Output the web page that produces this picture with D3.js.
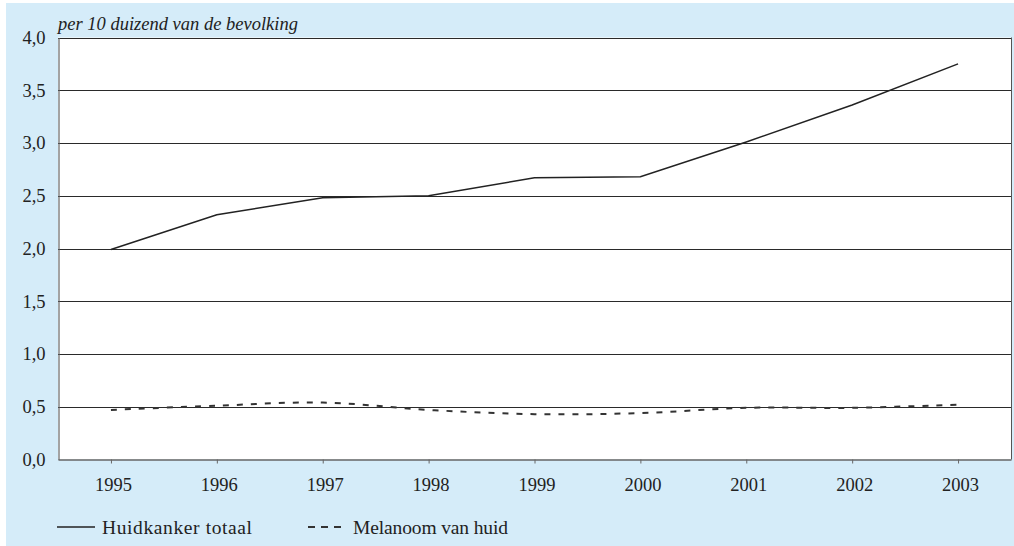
<!DOCTYPE html>
<html>
<head>
<meta charset="utf-8">
<script src="https://cdn.jsdelivr.net/npm/d3@7"></script>
<style>
  html, body { margin: 0; padding: 0; background: #ffffff; }
  svg { display: block; }
  text { font-family: "Liberation Serif", "DejaVu Serif", serif; fill: #222; }
</style>
</head>
<body>
<svg id="chart" width="1014" height="546"></svg>
<script>
// Skin cancer per 10 000 inhabitants, 1995–2003
const years = ["1995", "1996", "1997", "1998", "1999", "2000", "2001", "2002", "2003"];
const huidkankerTotaal = [1.99, 2.32, 2.48, 2.50, 2.67, 2.68, 3.01, 3.36, 3.75];
const melanoomVanHuid = [0.47, 0.51, 0.54, 0.47, 0.43, 0.44, 0.49, 0.49, 0.52];
const yTicks = [0, 0.5, 1.0, 1.5, 2.0, 2.5, 3.0, 3.5, 4.0];
const seriesNames = ["Huidkanker totaal", "Melanoom van huid"];
const unitLabel = "per 10 duizend van de bevolking";

const svg = d3.select("#chart");
const W = 1014, H = 546;
const plot = { left: 58, right: 1011, top: 37.5, bottom: 459.5 };

// panel background
svg.append("rect")
  .attr("x", 6).attr("y", 3)
  .attr("width", W - 6).attr("height", H - 3)
  .attr("fill", "#d5ecf9");

// white plot area
svg.append("rect")
  .attr("x", plot.left).attr("y", plot.top)
  .attr("width", plot.right - plot.left).attr("height", plot.bottom - plot.top)
  .attr("fill", "#ffffff");

const x = d3.scalePoint().domain(years).range([plot.left, plot.right]).padding(0.5);
const y = d3.scaleLinear().domain([0, 4]).range([plot.bottom, plot.top]);

// horizontal gridlines
svg.append("g")
  .selectAll("line")
  .data(yTicks.filter(d => d > 0))
  .join("line")
  .attr("x1", plot.left).attr("x2", plot.right)
  .attr("y1", d => Math.round(y(d)) + 0.5).attr("y2", d => Math.round(y(d)) + 0.5)
  .attr("stroke", "#2a2a2a").attr("stroke-width", 1);

// right border of the plot area
svg.append("line")
  .attr("x1", plot.right + 0.5).attr("x2", plot.right + 0.5)
  .attr("y1", plot.top).attr("y2", plot.bottom)
  .attr("stroke", "#555").attr("stroke-width", 1);

// y axis
const yAxis = d3.axisLeft(y)
  .tickValues(yTicks)
  .tickSize(0)
  .tickPadding(13)
  .tickFormat(d => d3.format(".1f")(d).replace(".", ","));
const gy = svg.append("g")
  .attr("transform", `translate(${plot.left + 0.5},0)`)
  .call(yAxis);
gy.select(".domain").attr("stroke", "#666").attr("stroke-width", 1.2);
gy.selectAll("text")
  .attr("font-size", 18.5)
  .attr("font-family", "Liberation Serif, serif")
  .attr("fill", "#222");

// x axis
const xAxis = d3.axisBottom(x).tickSize(4).tickSizeOuter(0).tickPadding(14);
const gx = svg.append("g")
  .attr("transform", `translate(0,${plot.bottom})`)
  .call(xAxis);
gx.select(".domain").attr("stroke", "#666").attr("stroke-width", 1.4);
gx.selectAll(".tick line").attr("stroke", "#666");
gx.selectAll("text")
  .attr("font-size", 18.5)
  .attr("font-family", "Liberation Serif, serif")
  .attr("fill", "#222")
  .attr("dx", 2);

// unit label above the plot
svg.append("text")
  .attr("x", plot.left).attr("y", 30)
  .attr("font-size", 18.5)
  .attr("font-style", "italic")
  .text(unitLabel);

// series lines
const lineTotal = d3.line()
  .x((d, i) => x(years[i]))
  .y(d => y(d));
const lineMelanoom = d3.line()
  .x((d, i) => x(years[i]))
  .y(d => y(d))
  .curve(d3.curveCatmullRom.alpha(0.5));

svg.append("path")
  .datum(huidkankerTotaal)
  .attr("d", lineTotal)
  .attr("fill", "none")
  .attr("stroke", "#222")
  .attr("stroke-width", 1.5);

svg.append("path")
  .datum(melanoomVanHuid)
  .attr("d", lineMelanoom)
  .attr("fill", "none")
  .attr("stroke", "#333")
  .attr("stroke-width", 2)
  .attr("stroke-dasharray", "6,8");

// legend
const legendY = 527;
const legend = svg.append("g");
legend.append("line")
  .attr("x1", 57).attr("x2", 95)
  .attr("y1", legendY).attr("y2", legendY)
  .attr("stroke", "#222").attr("stroke-width", 1.5);
legend.append("text")
  .attr("x", 102).attr("y", legendY)
  .attr("dy", "0.34em")
  .attr("font-size", 19.5)
  .attr("textLength", 150)
  .attr("lengthAdjust", "spacing")
  .text(seriesNames[0]);
legend.append("line")
  .attr("x1", 308).attr("x2", 342)
  .attr("y1", legendY).attr("y2", legendY)
  .attr("stroke", "#333").attr("stroke-width", 2)
  .attr("stroke-dasharray", "7,6");
legend.append("text")
  .attr("x", 353).attr("y", legendY)
  .attr("dy", "0.34em")
  .attr("font-size", 19.5)
  .attr("textLength", 155)
  .attr("lengthAdjust", "spacing")
  .text(seriesNames[1]);
</script>
</body>
</html>
